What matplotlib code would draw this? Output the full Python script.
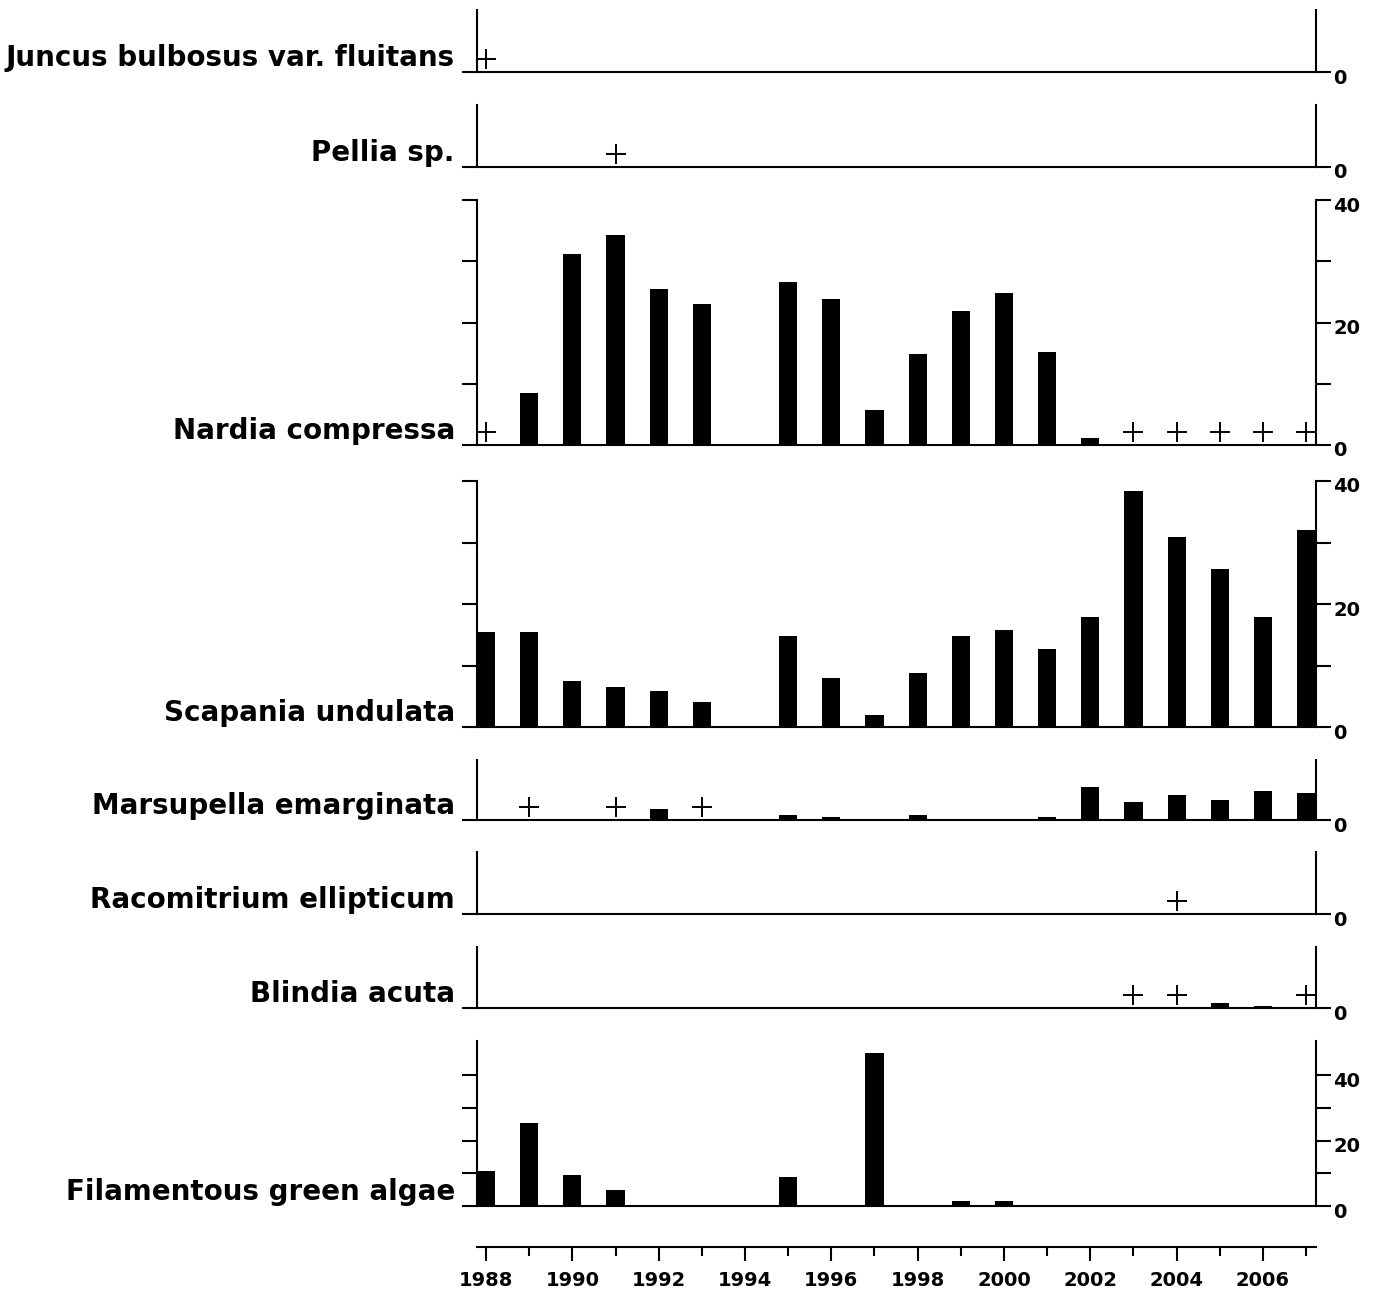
import matplotlib
matplotlib.use("Agg")
import matplotlib.pyplot as plt
from matplotlib.transforms import offset_copy, ScaledTranslation

# cover per year, '+' = present but not measurable
juncus_plus = [1988]
pellia_plus = [1991]

nardia_years = [1989, 1990, 1991, 1992, 1993, 1995, 1996, 1997, 1998, 1999, 2000, 2001, 2002]
nardia_cover = [8.5, 31.2, 34.3, 25.5, 23.0, 26.6, 23.8, 5.7, 14.9, 21.9, 24.8, 15.2, 1.1]
nardia_plus = [1988, 2003, 2004, 2005, 2006, 2007]

scapania_years = [1988, 1989, 1990, 1991, 1992, 1993, 1995, 1996, 1997, 1998,
                  1999, 2000, 2001, 2002, 2003, 2004, 2005, 2006, 2007]
scapania_cover = [15.4, 15.4, 7.5, 6.5, 5.9, 4.1, 14.8, 8.0, 2.0, 8.8,
                  14.8, 15.8, 12.7, 17.9, 38.4, 30.9, 25.7, 17.9, 32.0]

marsupella_years = [1992, 1995, 1996, 1998, 2001, 2002, 2003, 2004, 2005, 2006, 2007]
marsupella_cover = [1.9, 0.9, 0.5, 0.9, 0.5, 5.5, 3.0, 4.1, 3.4, 4.8, 4.5]
marsupella_plus = [1989, 1991, 1993]

racomitrium_plus = [2004]

blindia_years = [2005, 2006]
blindia_cover = [0.8, 0.4]
blindia_plus = [2003, 2004, 2007]

algae_years = [1988, 1989, 1990, 1991, 1995, 1997, 1999, 2000]
algae_cover = [10.7, 25.3, 9.5, 4.9, 8.9, 46.7, 1.5, 1.5]

plt.rcParams['font.family'] = ["DejaVu Sans"]

W, H = 1379, 1295
fig = plt.figure(figsize=(W / 100, H / 100), dpi=100)

x0, x1 = 477, 1316
xmin, xmax = 1987.79, 2007.23
down = ScaledTranslation(0, -4 / 100, fig.dpi_scale_trans)


def panel(top, bottom, name, ymax, bar_years=(), bar_vals=(), plus=(), ticks=(0,), labels=("0",)):
    ax = fig.add_axes([x0 / W, 1 - bottom / H, (x1 - x0) / W, (bottom - top) / H])
    ax.bar(bar_years, bar_vals, width=0.42, color="black")
    tr = offset_copy(ax.transData, fig=fig, y=13, units="dots")
    ax.plot(plus, [0] * len(plus), "+", color="black", ms=14, mew=1.4, transform=tr, clip_on=False)
    ax.set_xlim(xmin, xmax)
    ax.set_ylim(0, ymax)
    ax.spines["top"].set_visible(False)
    for s in ["left", "right", "bottom"]:
        ax.spines[s].set_linewidth(1.5)
    ax.set_xticks([])
    ax.set_yticks(list(ticks))
    ax.set_yticklabels(list(labels))
    ax.yaxis.set_ticks_position("both")
    ax.tick_params(axis="y", direction="out", length=10.5, width=1.5, pad=2,
                   labelleft=False, labelright=True, labelsize=14)
    for t in ax.get_yticklabels():
        t.set_fontweight("bold")
        t.set_transform(t.get_transform() + down)
    ax.annotate(name, xy=(0, 0), xycoords="axes fraction", xytext=(-16, 4.5),
                textcoords="offset points", ha="right", va="baseline",
                fontsize=20, fontweight="bold")
    return ax


big_ticks = [0, 10, 20, 30, 40]
big_labels = ["0", "", "20", "", "40"]

panel(10, 72, "Juncus bulbosus var. fluitans", 10, plus=juncus_plus)
panel(105, 167, "Pellia sp.", 10, plus=pellia_plus)
panel(200, 445, "Nardia compressa", 40, nardia_years, nardia_cover, nardia_plus, big_ticks, big_labels)
panel(481, 727, "Scapania undulata", 40, scapania_years, scapania_cover, (), big_ticks, big_labels)
panel(760, 820, "Marsupella emarginata", 10, marsupella_years, marsupella_cover, marsupella_plus)
panel(852, 914, "Racomitrium ellipticum", 10, plus=racomitrium_plus)
panel(947, 1008, "Blindia acuta", 10, blindia_years, blindia_cover, blindia_plus)
panel(1041, 1206, "Filamentous green algae", 50.4, algae_years, algae_cover, (), big_ticks, big_labels)

# shared year axis at the bottom
yax = fig.add_axes([x0 / W, 1 - 1247 / H, (x1 - x0) / W, 0.001])
yax.set_xlim(xmin, xmax)
for s in ["left", "right", "top"]:
    yax.spines[s].set_visible(False)
yax.spines["bottom"].set_linewidth(1.5)
yax.set_yticks([])
yax.set_xticks(list(range(1988, 2007, 2)))
yax.set_xticks(list(range(1989, 2008, 2)), minor=True)
yax.tick_params(axis="x", which="major", direction="out", length=10, width=1.5, pad=7, labelsize=14)
yax.tick_params(axis="x", which="minor", direction="out", length=6.5, width=1.5)
for t in yax.get_xticklabels():
    t.set_fontweight("bold")

fig.savefig("out.png", dpi=100)
